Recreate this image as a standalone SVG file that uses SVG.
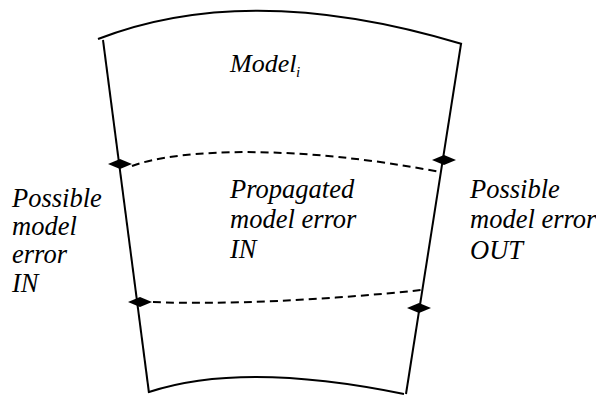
<svg xmlns="http://www.w3.org/2000/svg" width="596" height="396" viewBox="0 0 596 396">
  <style>
    .edge { fill: none; stroke: #000; stroke-width: 2; }
    .dash { fill: none; stroke: #000; stroke-width: 2; stroke-dasharray: 8 5; }
    text { font-family: 'Liberation Serif', 'Times New Roman', serif; font-style: italic; fill: #000; }
    .lbl { font-size: 26.5px; }
    .title { font-size: 26px; }
    .sub { font-size: 15px; }
  </style>
  <defs>
    <path id="diamond" d="M-12,0 L0,-5 L12,0 L0,5 Z" fill="#000"/>
  </defs>
  <rect width="596" height="396" fill="#fff"/>

  <!-- model block outline -->
  <g id="model">
    <path class="edge" d="M98,39 Q250,-20 462,44"/>
    <path class="edge" d="M103,40 L149,393"/>
    <path class="edge" d="M461,44 L406,394"/>
    <path class="edge" d="M149,392 Q243,361 404,394"/>
    <text class="title" x="230" y="72">Model</text>
    <text class="sub" x="296" y="77">i</text>
  </g>

  <!-- error propagation connectors -->
  <g id="connectors">
    <path class="dash" d="M132,166 C180,148 300,145 440,172"/>
    <path class="dash" d="M153,302 C220,305 330,300 421,290"/>
    <use href="#diamond" x="120" y="164"/>
    <use href="#diamond" x="444" y="160"/>
    <use href="#diamond" x="140" y="302"/>
    <use href="#diamond" x="419" y="308"/>
  </g>

  <g id="propagated">
    <text class="lbl" x="230" y="198">Propagated</text>
    <text class="lbl" x="230" y="228">model error</text>
    <text class="lbl" x="230" y="258">IN</text>
  </g>

  <g id="error-in">
    <text class="lbl" x="12" y="207">Possible</text>
    <text class="lbl" x="12" y="235">model</text>
    <text class="lbl" x="12" y="263">error</text>
    <text class="lbl" x="12" y="292">IN</text>
  </g>

  <g id="error-out">
    <text class="lbl" x="470" y="198">Possible</text>
    <text class="lbl" x="470" y="228">model error</text>
    <text class="lbl" x="470" y="259">OUT</text>
  </g>
</svg>
